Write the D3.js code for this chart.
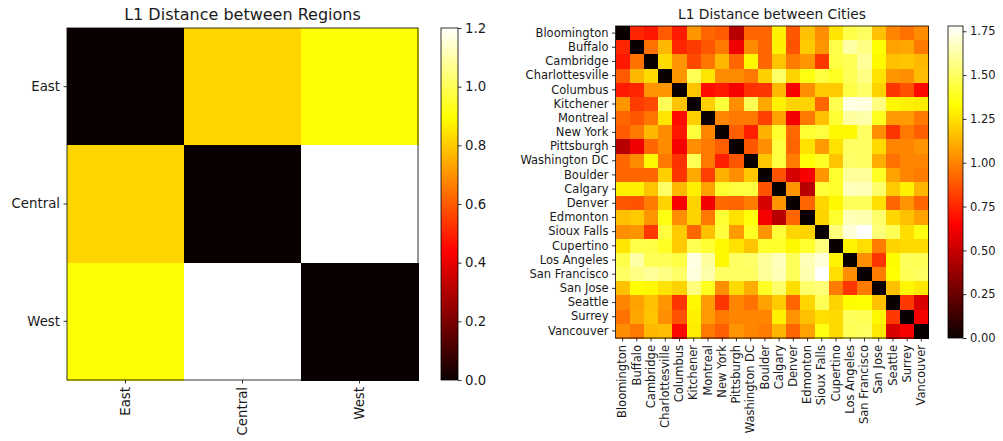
<!DOCTYPE html>
<html>
<head>
<meta charset="utf-8">
<title>L1 Distance heatmaps</title>
<script src="https://d3js.org/d3.v7.min.js"></script>
<style>
body { margin: 0; background: #fff; }
svg { display: block; font-family: "DejaVu Sans", sans-serif; }
.frame { fill: none; stroke: #000; stroke-width: 0.8; }
.axis path { display: none; }
.axis line { stroke: #000; stroke-width: 0.8; }
.axis text { fill: #1a1a1a; font-family: "DejaVu Sans", sans-serif; }
.title { fill: #1a1a1a; }
</style>
</head>
<body>
<div id="chart"></div>
<script>
// region level distances
var regions = ["East", "Central", "West"];
var regionDist = [
    [0.00, 0.82, 0.90],
    [0.82, 0.00, 1.20],
    [0.90, 1.20, 0.00]
];
var regionTicks = [0, 0.2, 0.4, 0.6, 0.8, 1.0, 1.2];

// city level distances, upper triangle only (row i holds columns i+1..21)
var cities = ["Bloomington", "Buffalo", "Cambridge", "Charlottesville", "Columbus", "Kitchener",
    "Montreal", "New York", "Pittsburgh", "Washington DC", "Boulder", "Calgary", "Denver",
    "Edmonton", "Sioux Falls", "Cupertino", "Los Angeles", "San Francisco", "San Jose",
    "Seattle", "Surrey", "Vancouver"];
var cityUpper = [
    [0.75,0.71,0.89,0.72,1.05,0.92,0.89,0.46,0.92,0.92,1.29,0.88,1.16,1.03,1.26,1.46,1.50,1.16,1.00,0.95,1.02],
    [0.95,1.14,0.75,0.81,0.88,0.97,0.61,1.02,0.92,1.29,0.87,1.19,1.05,1.46,1.62,1.56,1.33,1.08,1.09,0.97],
    [1.23,1.04,0.84,0.96,1.14,0.92,1.31,0.92,1.17,0.98,1.05,0.80,1.45,1.48,1.60,1.31,1.16,1.17,1.14],
    [1.05,1.48,1.26,1.02,1.02,0.97,1.20,1.51,1.21,1.36,1.44,1.39,1.48,1.56,1.25,1.05,1.03,1.15],
    [1.17,0.68,0.71,0.63,0.78,0.79,1.14,0.64,1.03,1.19,1.19,1.45,1.51,1.21,0.79,0.87,0.67],
    [1.20,1.43,1.03,1.48,1.10,1.29,1.21,1.21,0.92,1.47,1.73,1.72,1.55,1.31,1.29,1.28],
    [1.00,0.97,0.97,0.82,1.08,0.62,0.97,1.16,1.42,1.61,1.63,1.38,1.06,1.06,0.97],
    [0.90,0.73,1.12,1.41,0.93,1.42,1.44,1.31,1.31,1.50,1.03,0.79,0.97,0.90],
    [0.88,1.03,1.44,0.92,1.25,1.06,1.25,1.50,1.50,1.23,1.00,1.00,1.04],
    [1.18,1.44,0.98,1.34,1.39,1.17,1.51,1.50,1.11,0.95,1.00,1.00],
    [0.87,0.54,0.63,1.05,1.41,1.60,1.60,1.39,1.08,1.00,0.98],
    [1.05,0.46,1.43,1.40,1.66,1.65,1.52,1.19,1.29,1.13],
    [0.92,1.22,1.31,1.49,1.49,1.24,0.92,1.04,0.92],
    [1.21,1.41,1.65,1.64,1.52,1.22,1.16,1.08],
    [1.55,1.71,1.78,1.54,1.48,1.24,1.36],
    [1.30,1.24,0.98,1.21,1.23,1.23],
    [1.03,0.79,1.32,1.49,1.48],
    [0.98,1.33,1.48,1.50],
    [1.16,1.31,1.27],
    [0.80,0.55],
    [0.63]
];
var cityTicks = [0, 0.25, 0.5, 0.75, 1.0, 1.25, 1.5, 1.75];

// mirror the triangle into a full matrix
var cityDist = cities.map(function(c, i) {
    return cities.map(function(d, j) {
        if (i === j) return 0;
        return i < j ? cityUpper[i][j - i - 1] : cityUpper[j][i - j - 1];
    });
});

// matplotlib "hot" colormap stops
var hotStops = [0, 0.365079, 0.746032, 1];
var hotColors = ["#0b0000", "#ff0000", "#ffff00", "#ffffff"];

var svg = d3.select("#chart").append("svg")
    .attr("width", 1003).attr("height", 441);

function heatmap(o) {
    var vmax = d3.max(o.matrix, function(r) { return d3.max(r); });
    var color = d3.scaleLinear()
        .domain(hotStops.map(function(s) { return s * vmax; }))
        .range(hotColors);
    var x = d3.scaleBand().domain(o.labels).range([o.x, o.x + o.w]);
    var y = d3.scaleBand().domain(o.labels).range([o.y, o.y + o.h]);

    var cells = [];
    o.matrix.forEach(function(row, i) {
        row.forEach(function(v, j) { cells.push({r: o.labels[i], c: o.labels[j], v: v}); });
    });
    svg.append("g").selectAll("rect").data(cells).join("rect")
        .attr("x", function(d) { return x(d.c); })
        .attr("y", function(d) { return y(d.r); })
        .attr("width", x.bandwidth() + 0.5)
        .attr("height", y.bandwidth() + 0.5)
        .attr("fill", function(d) { return color(d.v); })
        .attr("shape-rendering", "crispEdges");
    svg.append("rect").attr("class", "frame")
        .attr("x", o.x).attr("y", o.y).attr("width", o.w).attr("height", o.h);

    var gy = svg.append("g").attr("class", "axis")
        .attr("transform", "translate(" + o.x + ",0)")
        .call(d3.axisLeft(y).tickSize(3.5).tickPadding(3.5));
    gy.selectAll("text").style("font-size", o.tickFont + "px");

    var gx = svg.append("g").attr("class", "axis")
        .attr("transform", "translate(0," + (o.y + o.h) + ")")
        .call(d3.axisBottom(x).tickSize(3.5).tickPadding(3.5));
    gx.selectAll("text")
        .style("font-size", o.tickFont + "px")
        .attr("text-anchor", "end")
        .attr("dy", "0.32em")
        .attr("transform", "translate(0,7) rotate(-90)")
        .attr("x", 0).attr("y", 0);

    svg.append("text").attr("class", "title")
        .attr("x", o.x + o.w / 2).attr("y", o.y - o.titleGap)
        .attr("text-anchor", "middle")
        .style("font-size", o.titleFont + "px")
        .text(o.title);

    // colorbar
    var gid = "grad" + o.id;
    var grad = svg.append("defs").append("linearGradient").attr("id", gid)
        .attr("x1", 0).attr("y1", 1).attr("x2", 0).attr("y2", 0);
    hotStops.forEach(function(s, i) {
        grad.append("stop").attr("offset", s).attr("stop-color", hotColors[i]);
    });
    svg.append("rect")
        .attr("x", o.cbX).attr("y", o.y).attr("width", o.cbW).attr("height", o.h)
        .attr("fill", "url(#" + gid + ")");
    svg.append("rect").attr("class", "frame")
        .attr("x", o.cbX).attr("y", o.y).attr("width", o.cbW).attr("height", o.h);
    var cs = d3.scaleLinear().domain([0, vmax]).range([o.y + o.h, o.y]);
    var gc = svg.append("g").attr("class", "axis")
        .attr("transform", "translate(" + (o.cbX + o.cbW) + ",0)")
        .call(d3.axisRight(cs).tickValues(o.ticks).tickFormat(d3.format(o.fmt))
            .tickSize(3.5).tickPadding(3.5));
    gc.selectAll("text").style("font-size", o.tickFont + "px");
}

heatmap({
    id: "r", labels: regions, matrix: regionDist, ticks: regionTicks, fmt: ".1f",
    x: 67, y: 28, w: 351, h: 352, cbX: 441, cbW: 17,
    title: "L1 Distance between Regions", titleFont: 16, titleGap: 8, tickFont: 13.3
});

heatmap({
    id: "c", labels: cities, matrix: cityDist, ticks: cityTicks, fmt: ".2f",
    x: 615.5, y: 26, w: 313, h: 312, cbX: 948, cbW: 15,
    title: "L1 Distance between Cities", titleFont: 13.8, titleGap: 7.5, tickFont: 11.5
});
</script>
</body>
</html>
